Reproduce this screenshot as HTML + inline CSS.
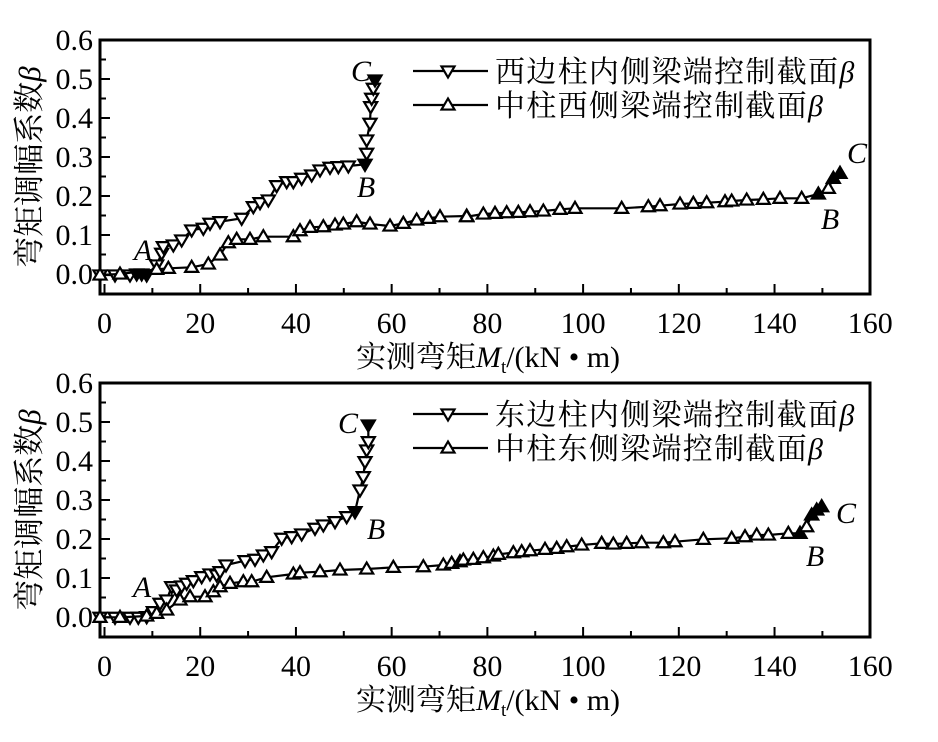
<!DOCTYPE html>
<html><head><meta charset="utf-8"><style>
html,body{margin:0;padding:0;background:#fff;}
svg{display:block;}
.t{font-family:"Liberation Serif",serif;font-size:30px;fill:#000;}
.c{font-family:"Liberation Serif","Noto Serif CJK SC",serif;font-size:30px;fill:#000;}
.i{font-family:"Liberation Serif",serif;font-style:italic;font-size:30px;fill:#000;}
</style></head><body>
<svg id="s" width="938" height="742" viewBox="0 0 938 742" xmlns="http://www.w3.org/2000/svg"></svg>
<script>
var s=document.getElementById('s'),h='';
function X(v){return 104.5+v*4.786;}
function tri(x,y,up,fill){var a=6.5,b=6.5;var p=up?[[x,y-b],[x-a,y+b*0.7],[x+a,y+b*0.7]]:[[x,y+b],[x-a,y-b*0.7],[x+a,y-b*0.7]];
return '<polygon points="'+p.map(q=>q.join(',')).join(' ')+'" fill="'+(fill?'#000':'#fff')+'" stroke="#000" stroke-width="2.2"/>';}
function series(pts,ox,oy,up,filled){var P=pts.map(q=>[ox+q[0]/3,oy+q[1]/3]);
var r='<polyline fill="none" stroke="#000" stroke-width="2.2" points="'+P.map(q=>q.join(',')).join(' ')+'"/>';
P.forEach(function(q,i){r+=tri(q[0],q[1],up,filled.indexOf(i)>=0);});return r;}
function panel(top,zero,cap1,cap2){
var bot=zero+20;var r='<rect x="100" y="'+top+'" width="770" height="'+(bot-top)+'" fill="none" stroke="#000" stroke-width="3"/>';
for(var v=0;v<=160;v+=10){var x=X(v),L=(v%20==0)?10:6;r+='<line x1="'+x+'" y1="'+bot+'" x2="'+x+'" y2="'+(bot-L)+'" stroke="#000" stroke-width="2"/>';
if(v%20==0)r+='<text class="t" x="'+x+'" y="'+(bot+39)+'" text-anchor="middle">'+v+'</text>';}
for(var k=0;k<=12;k++){var y=zero-k*19.5,L=(k%2==0)?10:6;if(k>0)r+='<line x1="100" y1="'+y+'" x2="'+(100+L)+'" y2="'+y+'" stroke="#000" stroke-width="2"/>';
if(k%2==0)r+='<text class="t" x="93" y="'+(y+10)+'" text-anchor="end">'+(k/20).toFixed(1)+'</text>';}
var cy=(top+bot)/2;
r+='<text class="c" style="font-size:31px" transform="translate(40,'+cy+') rotate(-90)" text-anchor="middle">弯矩调幅系数<tspan font-style="italic">β</tspan></text>';
r+='<text class="c" x="488" y="'+(bot+73)+'" text-anchor="middle">实测弯矩<tspan font-style="italic">M</tspan><tspan font-size="19" dy="6">t</tspan><tspan dy="-6">/(kN • m)</tspan></text>';
var l1=top+31,l2=top+65;
r+='<line x1="413" y1="'+l1+'" x2="488" y2="'+l1+'" stroke="#000" stroke-width="2.2"/>'+tri(448,l1,false,false);
r+='<line x1="413" y1="'+l2+'" x2="488" y2="'+l2+'" stroke="#000" stroke-width="2.2"/>'+tri(448,l2,true,false);
r+='<text class="c" x="495" y="'+(l1+11)+'" style="font-size:30px;letter-spacing:1.3px">'+cap1+'<tspan font-style="italic">β</tspan></text>';
r+='<text class="c" x="495" y="'+(l2+11)+'" style="font-size:30px;letter-spacing:1.3px">'+cap2+'<tspan font-style="italic">β</tspan></text>';
return r;}
h+=panel(40,274,'西边柱内侧梁端控制截面','中柱西侧梁端控制截面');
h+=panel(383,617,'东边柱内侧梁端控制截面','中柱东侧梁端控制截面');
var t1=[[300,765],[345,765],[390,765],[410,762],[425,762],[440,765],[470,735],[485,700],[490,680],[520,675],[545,660],[575,630],[610,625],[630,610],[660,605],[725,595],[760,560],[780,548],[805,540],[830,497],[860,485],[880,485],[905,475],[935,465],[960,450],[990,442],[1015,440],[1045,438],[1095,433],[1100,400],[1100,360],[1110,310],[1112,260],[1115,235],[1120,205],[1125,180]];
h+=series(t1,0,20,false,[3,4,5,28,35]);
var t2a=[[300,765],[360,762],[470,748],[505,745],[575,742],[625,732],[660,705],[685,668],[710,658],[750,658],[790,650],[880,650],[900,632],[930,622],[970,620],[1005,615],[1030,612],[1070,605],[1110,612],[1170,618],[1210,610],[1250,600],[1285,595],[1320,590],[1400,588]];
var t2b=[[20,590],[70,582],[105,580],[140,578],[175,577],[210,575],[250,573],[300,568],[345,565],[485,565],[565,560],[600,557],[660,552],[700,550],[740,548],[795,545],[815,543],[860,540],[910,538],[960,535],[1025,535],[1075,522],[1105,505],[1120,475],[1140,460]];
var t2=t2a.concat(t2b.map(q=>[q[0]+1380,q[1]]));
h+=series(t2,0,20,true,[t2.length-4,t2.length-1,t2.length-2]);
var b1=[[300,742],[345,742],[390,742],[415,742],[440,740],[460,725],[480,700],[500,690],[515,650],[530,660],[545,648],[560,640],[580,632],[605,620],[630,612],[650,615],[660,605],[678,585],[735,572],[765,568],[790,555],[815,545],[845,505],[875,500],[905,492],[945,475],[970,465],[1005,455],[1040,440],[1065,425],[1080,360],[1090,320],[1095,275],[1100,240],[1105,215],[1105,165]];
h+=series(b1,0,370,false,[4,29,35]);
var b2a=[[300,742],[360,742],[440,738],[470,730],[500,720],[540,690],[570,680],[615,680],[640,665],[660,650],[690,640],[730,635],[755,635],[800,622],[880,612],[900,608],[960,605],[1020,600],[1100,597],[1180,592],[1270,590],[1330,585],[1355,580],[1380,575]];
var b2b=[[10,570],[40,568],[70,563],[100,558],[115,553],[160,548],[185,545],[210,542],[255,538],[290,535],[320,530],[365,525],[425,520],[460,522],[500,520],[545,518],[610,518],[645,515],[730,508],[815,505],[855,500],[890,495],[925,495],[985,490],[1020,490],[1040,470],[1055,435],[1070,420],[1085,410]];
var b2=b2a.concat(b2b.map(q=>[q[0]+1380,q[1]]));
h+=series(b2,0,370,true,[b2.length-5,b2.length-3,b2.length-2,b2.length-1]);
h+='<text class="i" x="143" y="260" text-anchor="middle">A</text><text class="i" x="366" y="197" text-anchor="middle">B</text><text class="i" x="361" y="81" text-anchor="middle">C</text>';
h+='<text class="i" x="830" y="229" text-anchor="middle">B</text><text class="i" x="857" y="163" text-anchor="middle">C</text>';
h+='<text class="i" x="142" y="597" text-anchor="middle">A</text><text class="i" x="376" y="539" text-anchor="middle">B</text><text class="i" x="348" y="433" text-anchor="middle">C</text>';
h+='<text class="i" x="815" y="566" text-anchor="middle">B</text><text class="i" x="846" y="523" text-anchor="middle">C</text>';
s.innerHTML=h;
</script>
</body></html>
